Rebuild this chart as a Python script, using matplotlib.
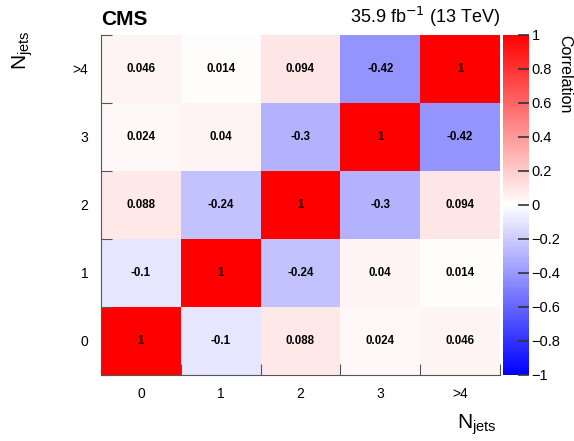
import numpy as np
import matplotlib
matplotlib.use("Agg")
import matplotlib.pyplot as plt
from matplotlib.colors import Normalize
from matplotlib.ticker import FuncFormatter

plt.rcParams['font.family'] = ['Liberation Sans', 'DejaVu Sans']

# bin labels and correlation values (row = y bin, column = x bin)
labels = ["0", "1", "2", "3", ">4"]
row_0 = [1, -0.1, 0.088, 0.024, 0.046]
row_1 = [-0.1, 1, -0.24, 0.04, 0.014]
row_2 = [0.088, -0.24, 1, -0.3, 0.094]
row_3 = [0.024, 0.04, -0.3, 1, -0.42]
row_4 = [0.046, 0.014, 0.094, -0.42, 1]
corr = np.array([row_0, row_1, row_2, row_3, row_4])

n = len(labels)
edges = np.arange(n + 1)

fig = plt.figure(figsize=(5.74, 4.41), dpi=100)
ax = fig.add_axes([0.176, 0.150, 0.695, 0.771])
cax = fig.add_axes([0.877, 0.150, 0.044, 0.771])

cmap = plt.get_cmap('bwr')
norm = Normalize(-1, 1)

mesh = ax.pcolormesh(edges, edges, corr, cmap=cmap, norm=norm)

for i in range(n):
    for j in range(n):
        ax.text(j + 0.5, i + 0.5, "%g" % corr[i, j], ha='center', va='center',
                fontsize=8.3, fontweight='bold')

ax.set_xlim(0, n)
ax.set_ylim(0, n)
ax.set_xticks(edges)
ax.set_yticks(edges)
ax.set_xticklabels([])
ax.set_yticklabels([])
ax.set_xticks(edges[:-1] + 0.5, minor=True)
ax.set_yticks(edges[:-1] + 0.5, minor=True)
ax.set_xticklabels(labels, minor=True, fontsize=10)
ax.set_yticklabels(labels, minor=True, fontsize=10)
ax.tick_params(which='major', direction='in', length=8, color='#555555')
ax.tick_params(which='minor', length=0, pad=9)
ax.spines['top'].set_visible(False)
ax.spines['right'].set_visible(False)
ax.spines['left'].set_color('#555555')
ax.spines['bottom'].set_color('#555555')

cb = fig.colorbar(mesh, cax=cax, ticks=np.linspace(-1, 1, 11))
cb.outline.set_visible(False)
cb.ax.tick_params(direction='in', length=8, width=1.2, color='#333333', labelsize=10.5, pad=2)
cb.ax.yaxis.set_major_formatter(FuncFormatter(lambda v, p: ("%g" % round(v, 1)).replace('-', '\u2212')))

fig.text(0.984, 0.921, "Correlation", fontsize=11.5, rotation=270, ha='center', va='top')
fig.text(0.176, 0.935, "CMS", fontsize=15, fontweight='bold', ha='left', va='bottom')
fig.text(0.871, 0.935, r"35.9 fb$^{-1}$ (13 TeV)", fontsize=13, ha='right', va='bottom')
fig.text(0.018, 0.93, r"N$_{\mathregular{jets}}$", fontsize=15, rotation=90, ha='left', va='top')
fig.text(0.865, 0.01, r"N$_{\mathregular{jets}}$", fontsize=15, ha='right', va='bottom')

fig.savefig("out.png", dpi=100)
